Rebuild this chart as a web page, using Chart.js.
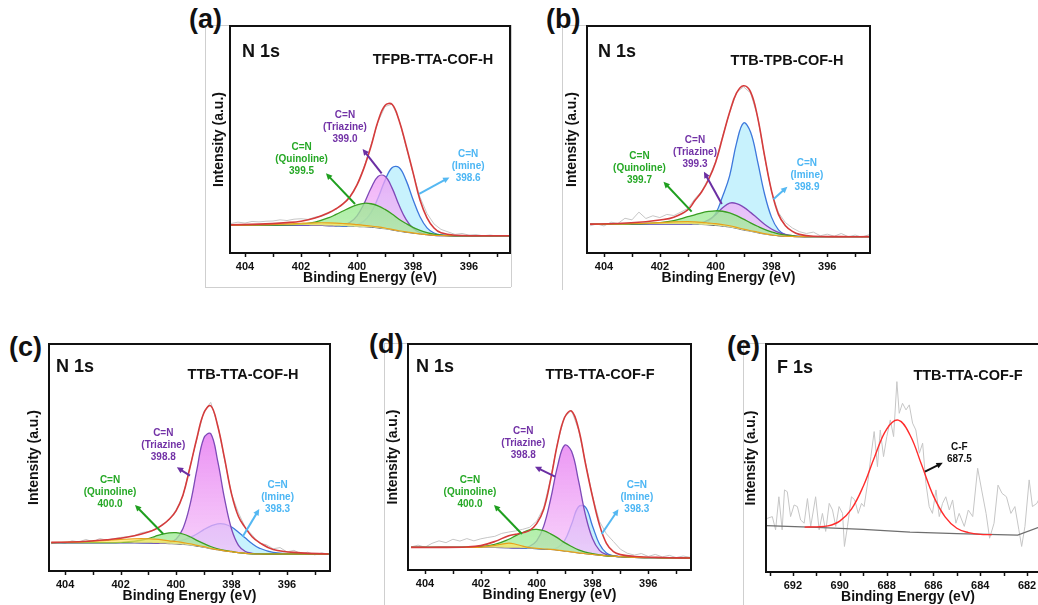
<!DOCTYPE html>
<html>
<head>
<meta charset="utf-8">
<script src="https://cdn.jsdelivr.net/npm/chart.js@4.4.1/dist/chart.umd.min.js"></script>
<style>
  html, body { margin: 0; padding: 0; background: #fff; overflow: hidden; }
  body { width: 1038px; height: 605px; position: relative; font-family: "Liberation Sans", Arial, sans-serif; }
  .panel { position: absolute; }
  .tag { position: absolute; font-weight: bold; font-size: 27px; line-height: 28px; color: #111; }
  .frame { position: absolute; background: #cfcfcf; }
</style>
</head>
<body>

<div class="frame" style="left:205px;top:25px;width:1px;height:262px"></div>
<div class="frame" style="left:205px;top:287px;width:306px;height:1px"></div>
<div class="frame" style="left:511px;top:25px;width:1px;height:262px"></div>
<div class="frame" style="left:205px;top:25px;width:25px;height:1px"></div>
<div class="frame" style="left:562px;top:25px;width:1px;height:265px"></div>
<div class="frame" style="left:562px;top:25px;width:25px;height:1px"></div>
<div class="frame" style="left:384px;top:343px;width:1px;height:262px"></div>
<div class="frame" style="left:384px;top:343px;width:24px;height:1px"></div>
<div class="frame" style="left:743px;top:343px;width:1px;height:262px"></div>
<div class="frame" style="left:743px;top:343px;width:23px;height:1px"></div>

<div class="tag" style="left:189px;top:5px">(a)</div>
<div class="tag" style="left:546px;top:5px">(b)</div>
<div class="tag" style="left:9px;top:333px">(c)</div>
<div class="tag" style="left:369px;top:330px">(d)</div>
<div class="tag" style="left:727px;top:332px">(e)</div>

<script>
Chart.defaults.font.family = '"Liberation Sans", Arial, sans-serif';
Chart.defaults.color = '#111';

// energy grids (eV)
const nGrid = [404.5, 403.5, 402.5, 402, 401.5, 401, 400.75, 400.5, 400.25, 400, 399.75, 399.5, 399.25, 399, 398.75, 398.5, 398.25, 398, 397.75, 397.5, 397.25, 397, 396.5, 395.5, 394.5];
const rawGrid = [404.5, 404.25, 404, 403.75, 403.5, 403.25, 403, 402.75, 402.5, 402.25, 402, 401.75, 401.5, 401.25, 401, 400.75, 400.5, 400.25, 400, 399.75, 399.5, 399.25, 399, 398.75, 398.5, 398.25, 398, 397.75, 397.5, 397.25, 397, 396.75, 396.5, 396.25, 396, 395.75, 395.5, 395.25, 395, 394.75, 394.5];
const nTicks = [404, 402, 400, 398, 396];
const fTicks = [692, 690, 688, 686, 684, 682];

// (a) TFPB-TTA-COF-H
const aRaw = [13.0, 13.6, 13.2, 13.9, 13.7, 14.0, 14.1, 14.6, 14.3, 14.9, 15.1, 14.8, 15.8, 16.2, 17.5, 19.2, 21.8, 25.0, 30.2, 37.8, 47.5, 57.8, 64.5, 65.6, 58.9, 47.0, 35.2, 24.6, 17.4, 12.8, 10.4, 9.3, 8.2, 8.6, 7.9, 8.1, 7.6, 7.9, 7.5, 7.7, 7.6];
const aBg = [12.3, 12.3, 12.3, 12.3, 12.2, 12.1, 12.0, 11.9, 11.8, 11.7, 11.6, 11.4, 11.1, 10.7, 10.2, 9.6, 9.2, 8.8, 8.4, 8.1, 7.8, 7.7, 7.6, 7.6, 7.6];
const aEnv = [12.4, 12.7, 13.4, 14.0, 15.4, 17.8, 19.5, 21.6, 24.8, 30.0, 37.5, 47.0, 58.0, 65.0, 65.5, 58.5, 47.5, 35.5, 23.3, 15.5, 11.0, 8.9, 7.8, 7.6, 7.6];
const aQuin = [12.3, 12.3, 12.4, 12.7, 13.6, 15.6, 17.0, 18.5, 20.0, 21.2, 21.9, 21.7, 20.8, 19.2, 17.2, 14.9, 13.0, 11.3, 10.0, 9.0, 8.3, 7.9, 7.6, 7.6, 7.6];
const aTri = [12.3, 12.3, 12.3, 12.3, 12.2, 12.1, 12.1, 12.4, 13.5, 16.4, 21.7, 28.5, 33.7, 33.8, 28.7, 21.1, 14.8, 10.9, 9.0, 8.2, 7.8, 7.7, 7.6, 7.6, 7.6];
const aImi = [12.3, 12.3, 12.3, 12.3, 12.2, 12.1, 12.0, 11.9, 12.0, 12.5, 14.1, 17.8, 24.2, 32.0, 37.6, 37.7, 32.1, 23.6, 16.0, 11.1, 8.8, 8.0, 7.6, 7.6, 7.6];
const aExtra = [12.3, 12.4, 12.8, 13.1, 13.3, 13.3, 13.2, 13.0, 12.8, 12.5, 12.2, 11.9, 11.5, 11.0, 10.4, 9.8, 9.3, 8.9, 8.4, 8.1, 7.8, 7.7, 7.6, 7.6, 7.6];

// (b) TTB-TPB-COF-H
const bRaw = [12.0, 12.8, 11.9, 13.6, 13.0, 15.3, 14.6, 18.0, 15.2, 16.4, 15.6, 17.0, 16.5, 18.0, 19.6, 23.8, 27.3, 33.0, 40.3, 51.5, 61.8, 70.8, 73.2, 70.5, 60.3, 42.5, 27.0, 17.8, 13.4, 11.0, 9.4, 8.6, 9.2, 7.6, 8.3, 7.4, 8.6, 7.2, 7.9, 7.0, 8.1];
const bBg = [12.6, 12.7, 12.8, 12.8, 12.8, 12.8, 12.7, 12.6, 12.4, 12.2, 11.9, 11.5, 10.9, 10.2, 9.6, 9.0, 8.4, 8.0, 7.6, 7.4, 7.3, 7.2, 7.2, 7.2, 7.2];
const bEnv = [12.7, 13.0, 13.8, 14.5, 15.8, 19.0, 23.0, 27.0, 32.5, 40.0, 51.0, 62.0, 70.5, 73.7, 71.0, 60.0, 43.0, 27.5, 17.0, 12.0, 9.5, 8.2, 7.4, 7.2, 7.2];
const bQuin = [12.6, 12.7, 13.0, 13.4, 14.3, 16.0, 16.8, 17.7, 18.3, 18.6, 18.4, 17.7, 16.5, 14.9, 13.3, 11.8, 10.4, 9.3, 8.4, 7.9, 7.6, 7.3, 7.2, 7.2, 7.2];
const bTri = [12.6, 12.7, 12.8, 12.8, 12.8, 12.8, 12.9, 13.4, 14.6, 16.9, 19.9, 22.0, 21.8, 20.2, 17.9, 15.3, 12.7, 10.6, 9.1, 8.2, 7.6, 7.3, 7.2, 7.2, 7.2];
const bImi = [12.6, 12.7, 12.8, 12.8, 12.8, 12.8, 12.8, 13.0, 14.0, 17.4, 25.0, 34.0, 48.5, 57.3, 53.3, 40.5, 26.1, 15.8, 10.2, 8.1, 7.4, 7.2, 7.2, 7.2, 7.2];
const bExtra = [12.6, 12.8, 13.1, 13.4, 13.7, 13.8, 13.7, 13.5, 13.2, 12.9, 12.5, 12.0, 11.3, 10.5, 9.8, 9.2, 8.5, 8.0, 7.6, 7.4, 7.3, 7.2, 7.2, 7.2, 7.2];

// (c) TTB-TTA-COF-H
const cRaw = [12.0, 12.6, 12.2, 13.3, 12.8, 13.9, 12.9, 14.3, 13.6, 14.2, 14.8, 15.1, 15.6, 16.9, 17.4, 18.2, 20.6, 22.4, 26.9, 33.0, 45.9, 58.0, 70.2, 74.3, 64.6, 49.0, 33.9, 25.6, 19.1, 15.8, 12.2, 11.6, 9.8, 10.3, 8.4, 9.1, 7.6, 8.3, 7.1, 8.0, 7.4];
const cBg = [12.5, 12.5, 12.5, 12.5, 12.5, 12.4, 12.3, 12.2, 12.1, 12.0, 11.8, 11.5, 11.0, 10.5, 9.9, 9.4, 8.9, 8.5, 8.1, 7.8, 7.6, 7.5, 7.5, 7.5, 7.5];
const cEnv = [12.6, 12.9, 13.8, 14.4, 15.5, 17.2, 18.4, 20.2, 22.8, 26.5, 33.5, 45.5, 58.5, 69.5, 72.8, 64.0, 49.5, 34.0, 24.0, 19.0, 15.0, 12.6, 9.5, 8.0, 7.5];
const cQuin = [12.5, 12.5, 12.5, 12.6, 13.1, 14.3, 15.3, 16.2, 16.8, 16.9, 16.3, 15.1, 13.5, 12.1, 10.8, 9.8, 9.1, 8.6, 8.1, 7.8, 7.6, 7.5, 7.5, 7.5, 7.5];
const cTri = [12.5, 12.5, 12.5, 12.5, 12.5, 12.4, 12.3, 12.3, 12.5, 14.0, 18.7, 29.0, 44.5, 58.5, 60.5, 48.5, 31.8, 18.5, 11.3, 8.6, 7.8, 7.5, 7.5, 7.5, 7.5];
const cImi = [12.5, 12.5, 12.5, 12.5, 12.5, 12.4, 12.4, 12.4, 12.5, 12.9, 13.6, 14.8, 16.3, 18.2, 19.8, 20.8, 20.7, 19.4, 17.1, 14.5, 12.0, 10.1, 8.2, 7.5, 7.5];
const cExtra = [12.5, 12.8, 13.5, 13.9, 14.2, 14.2, 14.0, 13.7, 13.3, 13.0, 12.5, 12.0, 11.3, 10.7, 10.0, 9.4, 8.9, 8.5, 8.1, 7.8, 7.6, 7.5, 7.5, 7.5, 7.5];

// (d) TTB-TTA-COF-F
const dRaw = [10.2, 11.0, 10.1, 11.8, 12.9, 12.1, 13.6, 12.8, 13.9, 12.9, 13.8, 14.4, 14.9, 16.2, 16.8, 17.3, 18.0, 18.9, 21.6, 27.5, 40.5, 56.5, 67.8, 70.6, 62.0, 47.5, 32.8, 21.5, 16.0, 12.6, 9.2, 7.4, 6.6, 7.3, 6.0, 6.9, 5.8, 6.5, 5.5, 6.2, 5.6];
const dBg = [10.0, 10.0, 10.0, 10.0, 10.0, 9.9, 9.8, 9.7, 9.6, 9.5, 9.3, 9.1, 8.8, 8.4, 8.0, 7.6, 7.2, 6.9, 6.6, 6.3, 6.1, 5.9, 5.6, 5.4, 5.3];
const dEnv = [10.0, 10.0, 10.2, 10.8, 12.6, 15.2, 15.8, 16.5, 17.5, 20.5, 26.8, 40.0, 56.0, 67.5, 70.3, 62.5, 47.0, 32.5, 20.0, 11.8, 8.1, 6.8, 6.0, 5.5, 5.3];
const dQuin = [10.0, 10.0, 10.1, 10.3, 11.3, 13.6, 15.2, 16.6, 17.7, 18.0, 17.4, 16.0, 14.2, 12.1, 10.4, 8.9, 7.9, 7.2, 6.7, 6.3, 6.1, 5.9, 5.6, 5.4, 5.3];
const dTri = [10.0, 10.0, 10.0, 10.0, 10.0, 9.9, 9.8, 9.9, 10.5, 12.9, 19.3, 31.3, 46.0, 55.2, 52.5, 39.5, 24.3, 13.9, 8.7, 6.8, 6.2, 5.9, 5.6, 5.4, 5.3];
const dImi = [10.0, 10.0, 10.0, 10.0, 10.0, 9.9, 9.8, 9.7, 9.6, 9.5, 9.3, 9.3, 9.9, 13.0, 20.2, 28.0, 27.8, 19.5, 11.5, 7.5, 6.3, 5.9, 5.6, 5.4, 5.3];
const dExtra = [10.0, 10.0, 10.0, 10.1, 10.9, 11.9, 11.4, 10.6, 9.9, 9.6, 9.3, 9.1, 8.8, 8.4, 8.0, 7.6, 7.2, 6.9, 6.6, 6.3, 6.1, 5.9, 5.6, 5.4, 5.3];

// (e) F 1s
const eRawX = [693.1, 692.88, 692.74, 692.6, 692.46, 692.36, 692.24, 692.1, 691.95, 691.81, 691.67, 691.52, 691.38, 691.24, 691.03, 690.88, 690.74, 690.6, 690.45, 690.31, 690.17, 690.03, 689.88, 689.8, 689.67, 689.5, 689.36, 689.21, 689.07, 688.96, 688.79, 688.67, 688.53, 688.39, 688.27, 688.13, 687.99, 687.84, 687.7, 687.56, 687.46, 687.32, 687.17, 687.03, 686.89, 686.75, 686.6, 686.46, 686.32, 686.18, 686.04, 685.89, 685.75, 685.61, 685.47, 685.32, 685.18, 685.04, 684.9, 684.68, 684.51, 684.32, 684.11, 683.94, 683.75, 683.6, 683.41, 683.24, 683.07, 682.88, 682.69, 682.52, 682.35, 682.23, 682.09, 681.91, 681.77, 681.58, 681.44, 681.2];
const eRawY = [23.5, 24.3, 18.5, 33.0, 18.5, 36.0, 35.2, 24.3, 29.4, 28.7, 22.8, 21.4, 32.2, 20.0, 33.0, 18.5, 25.7, 17.8, 30.1, 27.2, 20.0, 28.7, 25.7, 11.2, 20.0, 33.0, 31.6, 25.7, 30.1, 28.7, 40.4, 50.6, 61.6, 46.2, 62.3, 50.6, 59.4, 66.7, 59.4, 83.5, 69.6, 74.0, 71.1, 73.3, 65.3, 62.3, 52.1, 56.5, 38.9, 28.7, 25.7, 36.0, 24.3, 30.1, 33.0, 27.2, 31.6, 21.4, 25.7, 20.0, 27.2, 24.3, 45.5, 36.0, 25.7, 14.8, 21.4, 38.1, 34.5, 33.0, 25.7, 28.7, 18.5, 11.2, 20.0, 40.4, 28.7, 30.1, 33.0, 24.0];
const eFitX = [691.5, 691, 690.5, 690, 689.5, 689, 688.5, 688, 687.5, 687, 686.5, 686, 685.5, 685, 684.5, 684, 683.5];
const eFitY = [19.7, 19.8, 20.2, 22.3, 27.6, 37.5, 50.8, 62.6, 66.6, 60.1, 46.9, 33.4, 24.2, 19.2, 17.3, 16.5, 16.4];
const eBgX = [693.15, 691, 689, 687, 685, 682.4, 681];
const eBgY = [20.3, 19.6, 18.7, 17.5, 16.8, 16.2, 21.5];

function pts(xs, ys) {
    return xs.map((x, i) => ({ x: x, y: ys[i] }));
}

// vertical gradient from the peak region down to the baseline
function vGrad(top, bottom) {
    return c => {
        const a = c.chart.chartArea;
        if (!a) return bottom;
        const g = c.chart.ctx.createLinearGradient(0, a.top + (a.bottom - a.top) * 0.3, 0, a.bottom);
        g.addColorStop(0, top);
        g.addColorStop(1, bottom);
        return g;
    };
}

const GREEN_TXT = '#26a826', PURPLE_TXT = '#7232a6', BLUE_TXT = '#4cb6f4';

// one N 1s panel: envelope, extra, quinoline, triazine, imine, background, raw
function nDatasets(env, extra, quin, tri, imi, bg, raw) {
    const line = (data, color, width, fill, bgc) => ({
        data: pts(nGrid, data), borderColor: color, borderWidth: width,
        backgroundColor: bgc || 'transparent', fill: fill, tension: 0.4,
        pointRadius: 0
    });
    return [
        line(env, '#d53b3b', 1.6, false),
        line(extra, '#e7a11c', 1.2, 5, 'rgba(255,228,95,0.7)'),
        line(quin, '#3a9e22', 1.3, 5, vGrad('rgba(105,218,95,0.85)', 'rgba(175,240,165,0.75)')),
        line(tri, '#7e4ab8', 1.3, 5, vGrad('rgba(228,110,240,0.85)', 'rgba(246,200,250,0.7)')),
        line(imi, '#3d78dc', 1.3, 5, 'rgba(182,238,252,0.75)'),
        line(bg, '#6e6e6e', 1.3, false),
        { data: pts(rawGrid, raw), borderColor: '#c6c6c6', borderWidth: 1, tension: 0, pointRadius: 0, fill: false }
    ];
}

const panels = [
    { left: 230, top: 26, right: 510, bottom: 253, yGap: 10, xMin: 394.536, xMax: 404.536, ticks: nTicks,
      core: 'N 1s', coreAt: [12, 26], name: 'TFPB-TTA-COF-H', nameAt: [203, 34],
      datasets: nDatasets(aEnv, aExtra, aQuin, aTri, aImi, aBg, aRaw),
      notes: [
        { lines: ['C=N', '(Triazine)', '399.0'], color: PURPLE_TXT, x: 400.43, y: 55.6 },
        { lines: ['C=N', '(Quinoline)', '399.5'], color: GREEN_TXT, x: 401.98, y: 41.3 },
        { lines: ['C=N', '(Imine)', '398.6'], color: BLUE_TXT, x: 396.03, y: 38.0 }
      ],
      arrows: [
        { from: [399.12, 35.1], to: [399.8, 45.8], color: '#6b2fa3' },
        { from: [400.07, 21.6], to: [401.11, 35.1], color: '#1f9f1f' },
        { from: [397.78, 26.0], to: [396.7, 33.3], color: '#55b8f2' }
      ] },
    { left: 587, top: 26, right: 870, bottom: 253, yGap: 14, xMin: 394.47, xMax: 404.61, ticks: nTicks,
      core: 'N 1s', coreAt: [11, 26], name: 'TTB-TPB-COF-H', nameAt: [200, 35],
      datasets: nDatasets(bEnv, bExtra, bQuin, bTri, bImi, bBg, bRaw),
      notes: [
        { lines: ['C=N', '(Triazine)', '399.3'], color: PURPLE_TXT, x: 400.74, y: 44.6 },
        { lines: ['C=N', '(Quinoline)', '399.7'], color: GREEN_TXT, x: 402.73, y: 37.3 },
        { lines: ['C=N', '(Imine)', '398.9'], color: BLUE_TXT, x: 396.73, y: 34.4 }
      ],
      arrows: [
        { from: [399.78, 21.6], to: [400.42, 35.8], color: '#6b2fa3' },
        { from: [400.86, 18.2], to: [401.87, 31.4], color: '#1f9f1f' },
        { from: [397.93, 23.7], to: [397.43, 29.2], color: '#55b8f2' }
      ] },
    { left: 49, top: 344, right: 330, bottom: 571, yGap: 14, xMin: 394.45, xMax: 404.58, ticks: nTicks,
      core: 'N 1s', coreAt: [7, 23], name: 'TTB-TTA-COF-H', nameAt: [194, 31],
      datasets: nDatasets(cEnv, cExtra, cQuin, cTri, cImi, cBg, cRaw),
      notes: [
        { lines: ['C=N', '(Triazine)', '398.8'], color: PURPLE_TXT, x: 400.46, y: 55.5 },
        { lines: ['C=N', '(Quinoline)', '400.0'], color: GREEN_TXT, x: 402.38, y: 34.9 },
        { lines: ['C=N', '(Imine)', '398.3'], color: BLUE_TXT, x: 396.34, y: 32.3 }
      ],
      arrows: [
        { from: [399.5, 42.0], to: [399.97, 45.7], color: '#6b2fa3' },
        { from: [400.46, 16.3], to: [401.48, 29.1], color: '#1f9f1f' },
        { from: [397.6, 15.1], to: [397.0, 27.3], color: '#55b8f2' }
      ] },
    { left: 408, top: 344, right: 691, bottom: 570, yGap: 14, xMin: 394.47, xMax: 404.61, ticks: nTicks,
      core: 'N 1s', coreAt: [8, 23], name: 'TTB-TTA-COF-F', nameAt: [192, 31],
      datasets: nDatasets(dEnv, dExtra, dQuin, dTri, dImi, dBg, dRaw),
      notes: [
        { lines: ['C=N', '(Triazine)', '398.8'], color: PURPLE_TXT, x: 400.48, y: 56.1 },
        { lines: ['C=N', '(Quinoline)', '400.0'], color: GREEN_TXT, x: 402.39, y: 34.6 },
        { lines: ['C=N', '(Imine)', '398.3'], color: BLUE_TXT, x: 396.41, y: 32.0 }
      ],
      arrows: [
        { from: [399.34, 41.3], to: [400.06, 45.7], color: '#6b2fa3' },
        { from: [400.53, 15.9], to: [401.53, 28.8], color: '#1f9f1f' },
        { from: [397.67, 15.9], to: [397.07, 26.9], color: '#55b8f2' }
      ] },
    { left: 766, top: 344, right: 1050, bottom: 572, yGap: 14, xMin: 681.02, xMax: 693.15, ticks: fTicks,
      core: 'F 1s', coreAt: [11, 24], name: 'TTB-TTA-COF-F', nameAt: [202, 32],
      datasets: [
        { data: pts(eFitX, eFitY), borderColor: '#ff2b2b', borderWidth: 1.4, tension: 0.4, pointRadius: 0, fill: false },
        { data: pts(eBgX, eBgY), borderColor: '#6e6e6e', borderWidth: 1.3, tension: 0, pointRadius: 0, fill: false },
        { data: pts(eRawX, eRawY), borderColor: '#c6c6c6', borderWidth: 1, tension: 0, pointRadius: 0, fill: false }
      ],
      notes: [
        { lines: ['C-F', '687.5'], color: '#111', x: 684.89, y: 51.9 }
      ],
      arrows: [
        { from: [686.36, 44.0], to: [685.6, 47.9], color: '#111' }
      ] }
];

// frame, outward ticks, panel texts and arrows
const decor = {
    id: 'decor',
    afterDraw(chart, args, opts) {
        const p = opts.panel;
        const { ctx, chartArea: a, scales: { x, y } } = chart;
        ctx.save();

        ctx.strokeStyle = '#111';
        ctx.lineWidth = 1.5;
        for (let v = Math.ceil(x.min); v <= Math.floor(x.max); v++) {
            const px = Math.round(x.getPixelForValue(v)) + 0.5;
            ctx.beginPath();
            ctx.moveTo(px, a.bottom);
            ctx.lineTo(px, a.bottom + 4);
            ctx.stroke();
        }
        ctx.lineWidth = 2;
        ctx.strokeRect(a.left, a.top, a.right - a.left, a.bottom - a.top);

        ctx.fillStyle = '#111';
        ctx.textBaseline = 'middle';
        ctx.textAlign = 'left';
        ctx.font = 'bold 18px "Liberation Sans", Arial, sans-serif';
        ctx.fillText(p.core, a.left + p.coreAt[0], a.top + p.coreAt[1]);
        ctx.textAlign = 'center';
        ctx.font = 'bold 14.5px "Liberation Sans", Arial, sans-serif';
        ctx.fillText(p.name, a.left + p.nameAt[0], a.top + p.nameAt[1]);

        ctx.font = 'bold 10px "Liberation Sans", Arial, sans-serif';
        p.notes.forEach(n => {
            ctx.fillStyle = n.color;
            const cx = x.getPixelForValue(n.x), cy = y.getPixelForValue(n.y);
            n.lines.forEach((t, i) => {
                ctx.fillText(t, cx, cy + (i - (n.lines.length - 1) / 2) * 12);
            });
        });

        p.arrows.forEach(ar => {
            const x0 = x.getPixelForValue(ar.from[0]), y0 = y.getPixelForValue(ar.from[1]);
            const x1 = x.getPixelForValue(ar.to[0]), y1 = y.getPixelForValue(ar.to[1]);
            const ang = Math.atan2(y1 - y0, x1 - x0);
            const head = 7;
            ctx.strokeStyle = ar.color;
            ctx.fillStyle = ar.color;
            ctx.lineWidth = 2;
            ctx.beginPath();
            ctx.moveTo(x0, y0);
            ctx.lineTo(x1 - Math.cos(ang) * head * 0.6, y1 - Math.sin(ang) * head * 0.6);
            ctx.stroke();
            ctx.beginPath();
            ctx.moveTo(x1, y1);
            ctx.lineTo(x1 - head * Math.cos(ang - 0.45), y1 - head * Math.sin(ang - 0.45));
            ctx.lineTo(x1 - head * Math.cos(ang + 0.45), y1 - head * Math.sin(ang + 0.45));
            ctx.closePath();
            ctx.fill();
        });
        ctx.restore();
    }
};

function makeChart(p) {
    const W = p.yGap + 9, H = 34, PT = 6, PR = 6;
    const w = (p.right - p.left) + W + PR;
    const h = (p.bottom - p.top) + PT + H;
    const box = document.createElement('div');
    box.className = 'panel';
    box.style.left = (p.left - W) + 'px';
    box.style.top = (p.top - PT) + 'px';
    const cv = document.createElement('canvas');
    cv.width = w;
    cv.height = h;
    box.appendChild(cv);
    document.body.appendChild(box);

    new Chart(cv, {
        type: 'line',
        data: { datasets: p.datasets },
        plugins: [decor],
        options: {
            responsive: false,
            animation: false,
            events: [],
            layout: { padding: { top: PT, right: PR, left: 0, bottom: 0 } },
            plugins: {
                legend: { display: false },
                tooltip: { enabled: false },
                decor: { panel: p }
            },
            scales: {
                x: {
                    type: 'linear', reverse: true, min: p.xMin, max: p.xMax,
                    grid: { display: false, drawTicks: false },
                    border: { display: false },
                    afterBuildTicks: s => { s.ticks = p.ticks.map(v => ({ value: v })); },
                    ticks: { font: { size: 11, weight: 'bold' }, color: '#111', padding: 7, maxRotation: 0, autoSkip: false },
                    title: { display: true, text: 'Binding Energy (eV)', color: '#111',
                             font: { size: 14, weight: 'bold' }, padding: { top: 0, bottom: 0 } },
                    afterFit: s => { s.height = H; }
                },
                y: {
                    min: 0, max: 100,
                    ticks: { display: false },
                    grid: { display: false, drawTicks: false },
                    border: { display: false },
                    title: { display: true, text: 'Intensity (a.u.)', color: '#111',
                             font: { size: 14, weight: 'bold' }, padding: 0 },
                    afterFit: s => { s.width = W; }
                }
            }
        }
    });
}

panels.forEach(makeChart);
</script>
</body>
</html>
